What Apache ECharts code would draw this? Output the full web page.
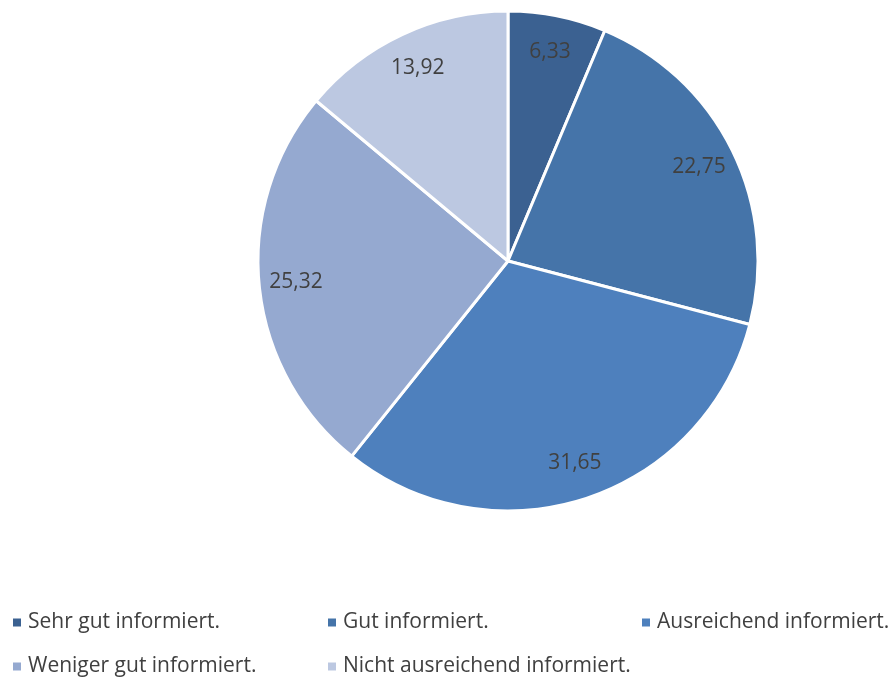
<!DOCTYPE html>
<html>
<head>
<meta charset="utf-8">
<script src="https://cdn.jsdelivr.net/npm/echarts@6/dist/echarts.min.js"></script>
<style>
  html, body { margin: 0; padding: 0; background: #ffffff; }
  #chart { width: 890px; height: 679px; }
</style>
</head>
<body>
<div id="chart"></div>
<script>
// Survey answers: how well informed respondents feel (percent)
const categories = [
  'Sehr gut informiert.',
  'Gut informiert.',
  'Ausreichend informiert.',
  'Weniger gut informiert.',
  'Nicht ausreichend informiert.'
];
const values = [6.33, 22.75, 31.65, 25.32, 13.92];
const colors = ['#3b6191', '#4574a9', '#4e80bd', '#95a9d0', '#bcc8e1'];

const fontFamily = '"Open Sans", "Noto Sans", sans-serif';
const textColor = '#404040';

const pieData = categories.map((name, i) => ({
  name: name,
  value: values[i],
  itemStyle: { color: colors[i] }
}));

// Value labels sit on a transparent ring so they land near the outer edge
const labelData = categories.map((name, i) => ({ name: name, value: values[i] }));

// Legend placed as a 3-column grid, one legend component per entry
const legendSlots = [
  { left: 11, top: 612 },
  { left: 326, top: 612 },
  { left: 640, top: 612 },
  { left: 11, top: 656 },
  { left: 326, top: 656 }
];
const legends = categories.map((name, i) => ({
  data: [name],
  left: legendSlots[i].left,
  top: legendSlots[i].top,
  orient: 'horizontal',
  icon: 'rect',
  itemWidth: 10,
  itemHeight: 10,
  padding: 0,
  selectedMode: false,
  textStyle: { color: textColor, fontSize: 21, fontFamily: fontFamily, padding: [0, 0, 0, 1] }
}));

const chart = echarts.init(document.getElementById('chart'), null, { renderer: 'canvas' });
chart.setOption({
  animation: false,
  backgroundColor: '#ffffff',
  legend: legends,
  series: [
    {
      type: 'pie',
      center: [508, 261],
      radius: [0, 250],
      startAngle: 90,
      clockwise: true,
      data: pieData,
      label: { show: false },
      labelLine: { show: false },
      itemStyle: { borderColor: '#ffffff', borderWidth: 3 },
      emphasis: { disabled: true }
    },
    {
      type: 'pie',
      center: [508, 261],
      radius: [170, 250],
      startAngle: 90,
      clockwise: true,
      silent: true,
      data: labelData,
      itemStyle: { color: 'rgba(0,0,0,0)' },
      label: {
        show: true,
        position: 'inside',
        color: textColor,
        fontSize: 21,
        fontFamily: fontFamily,
        formatter: p => p.value.toFixed(2).replace('.', ',')
      },
      labelLine: { show: false },
      emphasis: { disabled: true }
    }
  ]
});
</script>
</body>
</html>
